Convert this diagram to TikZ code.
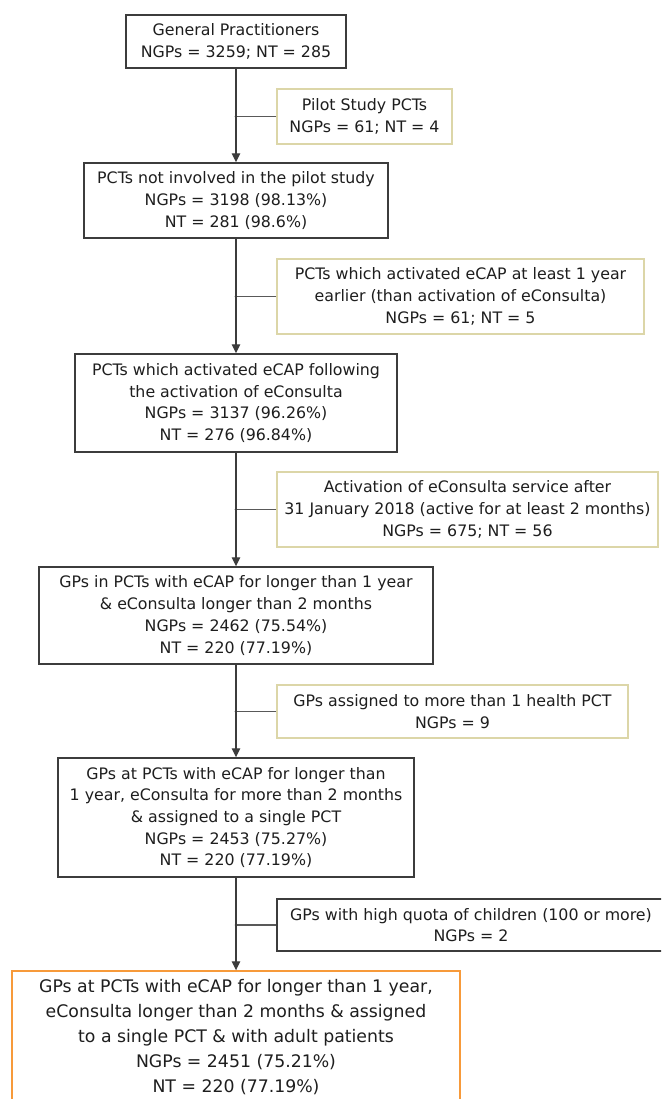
\documentclass[tikz,border=0pt]{standalone}
\usepackage{fontspec}
\setmainfont{DejaVu Sans}
\usetikzlibrary{arrows.meta}
\definecolor{linegray}{HTML}{3C3C3C}
\definecolor{textgray}{HTML}{1E1E1E}
\definecolor{khaki}{HTML}{DCD6A8}
\definecolor{orangeb}{HTML}{F79A3A}
\tikzset{
  x=1pt, y=-1pt,
  boxbase/.style={rectangle, inner sep=0pt, align=center, text=textgray,
    font=\fontsize{15.8pt}{21.7pt}\selectfont, line width=1.4pt, fill=white},
  mainbox/.style={boxbase, draw=linegray},
  sidebox/.style={boxbase, draw=khaki},
  sideboxdark/.style={boxbase, draw=linegray},
  finalbox/.style={boxbase, draw=orangeb, font=\fontsize{17.3pt}{25pt}\selectfont},
  conn/.style={draw=linegray, line width=1.3pt, -{Triangle[width=8.5pt,length=9pt]}},
  branch/.style={draw=linegray!85, line width=1.1pt},
  jdot/.style={fill=linegray}
}
\begin{document}
\begin{tikzpicture}
\useasboundingbox (0,0) rectangle (661,1099);
\clip (0,0) rectangle (661,1099);
\fill[white] (0,0) rectangle (661,1099);

\node[mainbox, minimum width=220pt, minimum height=53pt] (b1) at (236,41.5)
  {General Practitioners\\NGPs = 3259; NT = 285};
\node[sidebox, minimum width=175pt, minimum height=55pt] (s1) at (364.5,116.5)
  {Pilot Study PCTs\\NGPs = 61; NT = 4};
\node[mainbox, minimum width=304pt, minimum height=75pt] (b2) at (236,200.5)
  {PCTs not involved in the pilot study\\NGPs = 3198 (98.13\%)\\NT = 281 (98.6\%)};
\node[sidebox, minimum width=367pt, minimum height=75pt] (s2) at (460.5,296.5)
  {PCTs which activated eCAP at least 1 year\\earlier (than activation of eConsulta)\\NGPs = 61; NT = 5};
\node[mainbox, minimum width=322pt, minimum height=98pt] (b3) at (236,403)
  {PCTs which activated eCAP following\\the activation of eConsulta\\NGPs = 3137 (96.26\%)\\NT = 276 (96.84\%)};
\node[sidebox, minimum width=381pt, minimum height=75pt] (s3) at (467.5,509.5)
  {Activation of eConsulta service after\\31 January 2018 (active for at least 2 months)\\NGPs = 675; NT = 56};
\node[mainbox, minimum width=394pt, minimum height=97pt] (b4) at (236,615.5)
  {GPs in PCTs with eCAP for longer than 1 year\\\& eConsulta longer than 2 months\\NGPs = 2462 (75.54\%)\\NT = 220 (77.19\%)};
\node[sidebox, minimum width=351pt, minimum height=53pt] (s4) at (452.5,711.5)
  {GPs assigned to more than 1 health PCT\\NGPs = 9};
\node[mainbox, minimum width=356pt, minimum height=119pt] (b5) at (236,817.5)
  {GPs at PCTs with eCAP for longer than\\1 year, eConsulta for more than 2 months\\\& assigned to a single PCT\\NGPs = 2453 (75.27\%)\\NT = 220 (77.19\%)};
\node[sideboxdark, minimum width=388pt, minimum height=52pt] (s5) at (471,925)
  {GPs with high quota of children (100 or more)\\NGPs = 2};
\node[finalbox, minimum width=448pt, minimum height=132pt] (b6) at (236,1037)
  {GPs at PCTs with eCAP for longer than 1 year,\\eConsulta longer than 2 months \& assigned\\to a single PCT \& with adult patients\\NGPs = 2451 (75.21\%)\\NT = 220 (77.19\%)};

\draw[conn] (b1) -- (b2);
\draw[conn] (b2) -- (b3);
\draw[conn] (b3) -- (b4);
\draw[conn] (b4) -- (b5);
\draw[conn] (b5) -- (b6);

\coordinate (j1) at (s1.west -| b1.south);
\coordinate (j2) at (s2.west -| b1.south);
\coordinate (j3) at (s3.west -| b1.south);
\coordinate (j4) at (s4.west -| b1.south);
\coordinate (j5) at (s5.west -| b1.south);
\foreach \s/\j in {s1/j1,s2/j2,s3/j3,s4/j4,s5/j5}{
  \draw[branch] (\s.west) -- (\j);
  \fill[jdot] (\j) circle (1.4pt);
}
\end{tikzpicture}
\end{document}
